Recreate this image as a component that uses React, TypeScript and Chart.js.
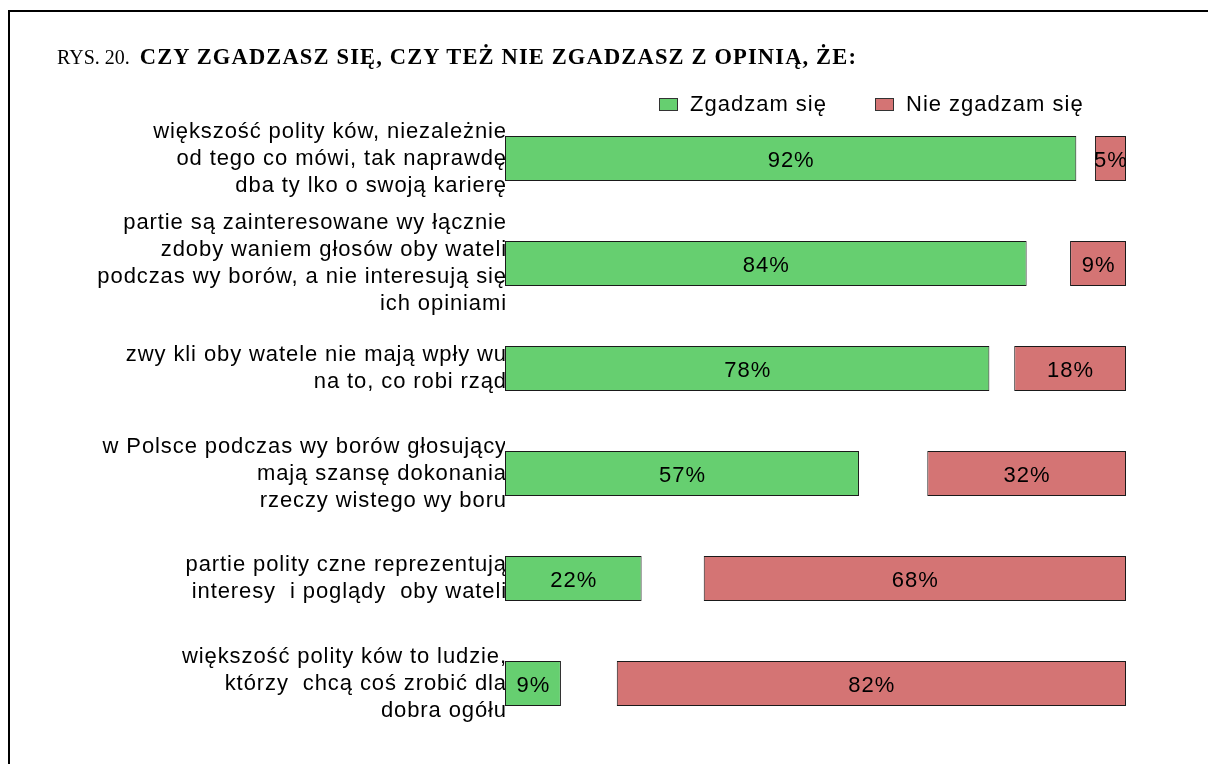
import React, { useEffect, useRef } from "react";
import { Chart, registerables } from "chart.js";

Chart.register(...registerables);

const categories: string[][] = [
  ["większość polity ków, niezależnie", "od tego co mówi, tak naprawdę", "dba ty lko o swoją karierę"],
  ["partie są zainteresowane wy łącznie", "zdoby waniem głosów oby wateli", "podczas wy borów, a nie interesują się", "ich opiniami"],
  ["zwy kli oby watele nie mają wpły wu", "na to, co robi rząd"],
  ["w Polsce podczas wy borów głosujący", "mają szansę dokonania", "rzeczy wistego wy boru"],
  ["partie polity czne reprezentują", "interesy  i poglądy  oby wateli"],
  ["większość polity ków to ludzie,", "którzy  chcą coś zrobić dla", "dobra ogółu"],
];

const agree: number[] = [92, 84, 78, 57, 22, 9];
const disagree: number[] = [5, 9, 18, 32, 68, 82];

const seriesNames: string[] = ["Zgadzam się", "Nie zgadzam się"];
const seriesColors: string[] = ["#66CF70", "#D47474"];

const titlePrefix = "RYS. 20.";
const titleMain = "CZY ZGADZASZ SIĘ, CZY TEŻ NIE ZGADZASZ Z OPINIĄ, ŻE:";

const SANS = "'Liberation Sans', Arial, sans-serif";
const SERIF = "'Liberation Serif', 'Times New Roman', serif";

const spacingPlugin = {
  id: "labelSpacing",
  beforeDraw(chart: any) {
    (chart.ctx as any).letterSpacing = "0.9px";
  },
  beforeDatasetsDraw(chart: any) {
    (chart.ctx as any).letterSpacing = "0px";
  },
};

const valueLabelPlugin = {
  id: "valueLabels",
  afterDatasetsDraw(chart: any) {
    const ctx = chart.ctx;
    ctx.save();
    (ctx as any).letterSpacing = "1px";
    ctx.font = `22px ${SANS}`;
    ctx.fillStyle = "#000";
    ctx.textAlign = "center";
    ctx.textBaseline = "middle";
    const sources = [agree, disagree];
    chart.data.datasets.forEach((_ds: any, i: number) => {
      const meta = chart.getDatasetMeta(i);
      meta.data.forEach((bar: any, j: number) => {
        const p = bar.getProps(["x", "base", "y"], true);
        ctx.fillText(`${sources[i][j]}%`, (p.x + p.base) / 2 + 0.5, p.y + 2);
      });
    });
    ctx.restore();
  },
};

const legendPlugin = {
  id: "customLegend",
  afterDraw(chart: any) {
    const ctx = chart.ctx;
    ctx.save();
    (ctx as any).letterSpacing = "1px";
    const positions = [659, 875];
    ctx.font = `22px ${SANS}`;
    ctx.textBaseline = "middle";
    ctx.textAlign = "left";
    seriesNames.forEach((name, i) => {
      const x = positions[i];
      ctx.fillStyle = seriesColors[i];
      ctx.fillRect(x, 98, 19, 13);
      ctx.strokeStyle = "#333";
      ctx.lineWidth = 1;
      ctx.strokeRect(x + 0.5, 98.5, 18, 12);
      ctx.fillStyle = "#000";
      ctx.fillText(name, x + 31, 105);
    });
    ctx.restore();
  },
};

export default function App() {
  const canvasRef = useRef<HTMLCanvasElement | null>(null);

  useEffect(() => {
    if (!canvasRef.current) return;
    const chart = new Chart(canvasRef.current, {
      type: "bar",
      data: {
        labels: categories,
        datasets: [
          {
            label: seriesNames[0],
            data: agree,
            backgroundColor: seriesColors[0],
            borderColor: "#1a1a1a",
            borderWidth: 1,
            borderSkipped: false,
            grouped: false,
            barPercentage: 0.43,
            categoryPercentage: 1,
          } as any,
          {
            label: seriesNames[1],
            data: disagree.map((d) => [100 - d, 100]),
            backgroundColor: seriesColors[1],
            borderColor: "#1a1a1a",
            borderWidth: 1,
            borderSkipped: false,
            grouped: false,
            barPercentage: 0.43,
            categoryPercentage: 1,
          } as any,
        ],
      },
      options: {
        indexAxis: "y",
        animation: false,
        responsive: true,
        maintainAspectRatio: false,
        layout: { padding: { top: 106, bottom: 28, left: 0, right: 82 } },
        scales: {
          x: { display: false, min: 0, max: 100 },
          y: {
            grid: { display: false, drawTicks: false },
            border: { display: false },
            ticks: {
              color: "#000",
              padding: -2,
              autoSkip: false,
              font: { family: SANS, size: 22, lineHeight: 1.23 },
            },
            afterFit: (scale: any) => {
              scale.width = 505;
              scale.paddingTop = 0;
              scale.paddingBottom = 0;
            },
          } as any,
        },
        plugins: {
          legend: { display: false },
          tooltip: { enabled: false },
        },
      },
      plugins: [spacingPlugin, valueLabelPlugin, legendPlugin],
    });
    return () => chart.destroy();
  }, []);

  return (
    <div>
      <div
        style={{
          position: "fixed",
          left: 8,
          top: 10,
          width: 1400,
          height: 1000,
          borderTop: "2.5px solid #000",
          borderLeft: "2.5px solid #000",
          boxSizing: "border-box",
        }}
      />
      <div
        style={{
          position: "fixed",
          left: 57,
          top: 43,
          fontFamily: SERIF,
          color: "#000",
          whiteSpace: "pre",
          lineHeight: "28px",
        }}
      >
        <span style={{ fontSize: 20 }}>{titlePrefix}  </span>
        <span style={{ fontWeight: "bold", fontSize: 22.5, letterSpacing: "1.15px" }}>{titleMain}</span>
      </div>
      <div style={{ position: "fixed", left: 0, top: 0, width: 1208, height: 764 }}>
        <canvas ref={canvasRef} />
      </div>
    </div>
  );
}
